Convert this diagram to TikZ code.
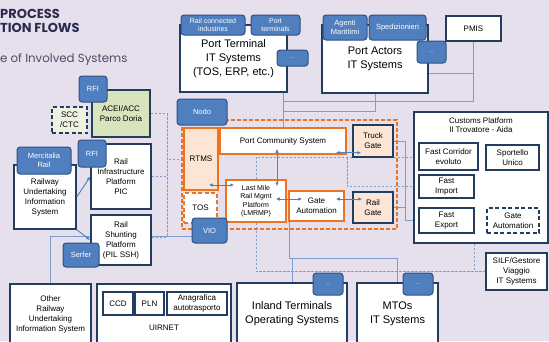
\documentclass[tikz,border=0pt]{standalone}
\usepackage{fontspec}
\setmainfont{Liberation Sans}
\newfontfamily\titlefont{Poppins}
\usetikzlibrary{arrows.meta,positioning,calc}
\pgfdeclarelayer{bg}
\pgfdeclarelayer{wires}
\pgfsetlayers{bg,wires,main}
\definecolor{bgcol}{HTML}{E6E0EC}
\definecolor{navy}{HTML}{233D5E}
\definecolor{tabfill}{HTML}{4F7FBE}
\definecolor{tabedge}{HTML}{2F5283}
\definecolor{orng}{HTML}{EC7422}
\definecolor{peach}{HTML}{FCE5D4}
\definecolor{accgreen}{HTML}{D8E4BC}
\definecolor{sccfill}{HTML}{EEF2E2}
\definecolor{lineblue}{HTML}{7D9DD0}
\definecolor{arrblue}{HTML}{4F7FBE}
\definecolor{titlecol}{HTML}{2C2B4F}
\tikzset{
  sysbox/.style={draw=navy, line width=1.5pt, fill=white, inner sep=0pt, align=center, font=\fontsize{8}{10}\selectfont},
  bigbox/.style={sysbox, font=\fontsize{11}{14}\selectfont},
  obox/.style={sysbox, draw=orng},
  tab/.style={draw=tabedge, fill=tabfill, line width=1pt, rounded corners=3pt, text=white, inner sep=0pt, align=center, font=\fontsize{7.5}{9.5}\selectfont},
  link/.style={draw=lineblue, line width=0.7pt},
  dlink/.style={link, dash pattern=on 2.5pt off 1.5pt},
  arr/.style={draw=arrblue, line width=0.9pt, -{Latex[length=4pt,width=3.5pt]}},
  biarr/.style={draw=arrblue, line width=0.9pt, {Latex[length=4pt,width=3.5pt]}-{Latex[length=4pt,width=3.5pt]}}
}
\begin{document}
\begin{tikzpicture}[x=1pt,y=-1pt]
\clip (0,0) rectangle (549,341);
\begin{pgfonlayer}{bg}
\fill[bgcol] (0,0) rectangle (549,341);
\end{pgfonlayer}

% heading
\node[anchor=base west, inner sep=0pt, text=titlecol, font=\titlefont\bfseries\fontsize{13}{15}\selectfont] (ttlA) at (0,18) {PROCESS};
\node[anchor=base west, inner sep=0pt, text=titlecol, font=\titlefont\bfseries\fontsize{13}{15}\selectfont] (ttlB) at (0,32) {TION FLOWS};
\node[anchor=base west, inner sep=0pt, text=titlecol!85, font=\titlefont\fontsize{11.8}{13}\selectfont] (ttlC) at (0,62) {e of Involved Systems};

% port side
\node[bigbox, minimum width=107pt, minimum height=67pt] (PT) at (233.5,58.5) {Port Terminal\\IT Systems\\(TOS, ERP, etc.)};
\node[bigbox, minimum width=106pt, minimum height=68pt] (PA) at (375,59) {Port Actors\\IT Systems};
\node[sysbox, minimum width=55pt, minimum height=25pt] (PMIS) at (473.5,28.5) {PMIS};
\node[tab, minimum width=64pt, minimum height=20pt, font=\fontsize{7}{8.5}\selectfont] (tRail) at (213,25) {Rail connected\\industries};
\node[tab, minimum width=49pt, minimum height=20pt, font=\fontsize{7}{8.5}\selectfont] (tPort) at (275.5,25) {Port\\terminals};
\node[tab, minimum width=31pt, minimum height=16pt, font=\fontsize{5}{6}\selectfont] (tDotA) at (292.5,58) {...};
\node[tab, minimum width=44pt, minimum height=25pt] (tAgenti) at (345,27.5) {Agenti\\Marittimi};
\node[tab, minimum width=57pt, minimum height=25pt] (tSped) at (397.5,27.5) {Spedizionieri};
\node[tab, minimum width=29pt, minimum height=22pt, font=\fontsize{5}{6}\selectfont] (tDotB) at (431.5,52) {...};

% rail side
\node[sysbox, fill=accgreen, minimum width=58pt, minimum height=47pt] (ACEI) at (121,113.5) {ACEI/ACC\\Parco Doria};
\node[sysbox, fill=sccfill, dash pattern=on 4pt off 2.5pt, minimum width=35pt, minimum height=26pt] (SCC) at (69.5,120) {SCC\\/CTC};
\node[sysbox, minimum width=62pt, minimum height=64pt] (RU) at (45,197) {Railway\\Undertaking\\Information\\System};
\node[sysbox, minimum width=60pt, minimum height=65pt] (PIC) at (121,176.5) {Rail\\Infrastructure\\Platform\\PIC};
\node[sysbox, minimum width=60pt, minimum height=50pt] (Shunt) at (121,240) {Rail\\Shunting\\Platform\\(PIL SSH)};
\node[tab, minimum width=28pt, minimum height=26pt] (tRfiA) at (93,89) {RFI};
\node[tab, minimum width=28pt, minimum height=27pt] (tRfiB) at (92,153.5) {RFI};
\node[tab, minimum width=54pt, minimum height=27pt] (tMerc) at (44,160.5) {Mercitalia\\Rail};
\node[tab, minimum width=36pt, minimum height=24pt] (tSerfer) at (81,255) {Serfer};

% orange cluster
\node[draw=orng, line width=1.5pt, dash pattern=on 4pt off 2pt, minimum width=215pt, minimum height=109pt] (LOG) at (289.5,174.5) {};
\node[obox, fill=peach, minimum width=34pt, minimum height=62pt] (RTMS) at (201,159) {RTMS};
\node[obox, dash pattern=on 4pt off 2.5pt, minimum width=33pt, minimum height=30pt] (TOS) at (200.5,208) {TOS};
\node[obox, minimum width=126pt, minimum height=26pt] (PCS) at (283,141) {Port Community System};
\node[sysbox, fill=peach, minimum width=40pt, minimum height=32pt] (Truck) at (373,141) {Truck\\Gate};
\node[obox, font=\fontsize{7}{8.5}\selectfont, minimum width=60pt, minimum height=42pt] (LMRMP) at (256,201) {Last Mile\\Rail Mgmt\\Platform\\(LMRMP)};
\node[obox, minimum width=55pt, minimum height=30pt] (GateA) at (316.5,206) {Gate\\Automation};
\node[sysbox, fill=peach, minimum width=40pt, minimum height=31pt] (RailG) at (373,207.5) {Rail\\Gate};
\node[tab, minimum width=50pt, minimum height=26pt] (tNodo) at (202,112) {Nodo};
\node[tab, minimum width=35pt, minimum height=25pt] (tVio) at (209.5,230.5) {VIO};

% customs
\node[sysbox, minimum width=134pt, minimum height=131pt] (CUS) at (481,177.5) {};
\node[align=center, inner sep=0pt, font=\fontsize{8}{9.5}\selectfont] (CUStxt) at (481,125) {Customs Platform\\Il Trovatore - Aida};
\node[sysbox, minimum width=59pt, minimum height=27pt] (FastCorr) at (448.5,156.5) {Fast Corridor\\evoluto};
\node[sysbox, minimum width=53pt, minimum height=25pt] (Sport) at (512.5,157.5) {Sportello\\Unico};
\node[sysbox, minimum width=55pt, minimum height=23pt] (FastImp) at (446.5,186.5) {Fast\\Import};
\node[sysbox, minimum width=55pt, minimum height=25pt] (FastExp) at (446.5,220.5) {Fast\\Export};
\node[sysbox, dash pattern=on 4pt off 2.5pt, minimum width=52pt, minimum height=25pt] (GateB) at (513,220.5) {Gate\\Automation};
\node[sysbox, minimum width=61pt, minimum height=37pt] (SILF) at (516.5,271.5) {SILF/Gestore\\Viaggio\\IT Systems};

% bottom row
\node[sysbox, minimum width=81pt, minimum height=61pt] (ORU) at (50.5,314.5) {Other\\Railway\\Undertaking\\Information System};
\node[sysbox, minimum width=134pt, minimum height=61pt] (UIR) at (164,314.5) {};
\node[inner sep=0pt, font=\fontsize{8}{10}\selectfont] (UIRtxt) at (164,328) {UIRNET};
\node[sysbox, minimum width=30pt, minimum height=23pt] (CCD) at (118,303.5) {CCD};
\node[sysbox, minimum width=29pt, minimum height=23pt] (PLN) at (149.5,303.5) {PLN};
\node[sysbox, minimum width=60pt, minimum height=23pt] (Anag) at (197,303.5) {Anagrafica\\autotrasporto};
\node[bigbox, minimum width=110pt, minimum height=62pt] (Inland) at (292,314) {Inland Terminals\\Operating Systems};
\node[bigbox, minimum width=81pt, minimum height=62pt] (MTO) at (397.5,314) {MTOs\\IT Systems};
\node[tab, minimum width=30pt, minimum height=22pt, font=\fontsize{5}{6}\selectfont] (tDotC) at (328,284) {...};
\node[tab, minimum width=30pt, minimum height=22pt, font=\fontsize{5}{6}\selectfont] (tDotD) at (418,284) {...};

% junctions
\coordinate (jTop) at (283,101);
\coordinate (jAct) at (283,111);
\coordinate (jLeft) at (167,237);
\coordinate (jRight) at (405,141);
\coordinate (jMid) at (256,157);
\coordinate (jImp) at (347,157);
\coordinate (jBot) at (397.5,258);

\begin{pgfonlayer}{wires}
\draw[link] (PT.south -| PCS.north) -- (PCS.north);
\draw[link] (PA.south) |- (jAct);
\draw[link] (PMIS.south) |- (jTop);
\draw[link] ([yshift=-14pt]PA.east) -- ([yshift=-14pt]PA.east -| PMIS.south);
\draw[link] (tRail.east) -- (tPort.west);
\draw[dlink] (ACEI.east) -| (jLeft);
\draw[dlink] (PIC.east) -- (PIC.east -| jLeft);
\draw[dlink] ([yshift=3pt]Shunt.east) -- (jLeft);
\draw[dlink] (RTMS.west) -- (RTMS.west -| jLeft);
\draw[link] (ORU.north) |- ([yshift=-5.5pt]tVio.west);
\draw[link] (Truck.east) -- (jRight) |- (FastExp.west);
\draw[link] (RailG.east) -- (RailG.east -| jRight);
\draw[dlink] (LMRMP.north) -- (jMid) -- (jMid -| FastCorr.west);
\draw[dlink] (jImp) |- (FastImp.west);
\draw[dlink] (LMRMP.south) |- (SILF.west);
\draw[dlink] ([xshift=-7pt]CUS.south) -- ([xshift=-7pt]CUS.south |- SILF.west);
\draw[link] ([xshift=1pt]GateA.south west) |- (jBot) -- (MTO.north);
\draw[link] (Inland.north) -- (Inland.north |- jBot);
\end{pgfonlayer}

\draw[arr] (RU.east) -- (PIC.west);
\draw[arr] (RU.south east) -- (Shunt.west);
\draw[biarr, shorten <=-11pt, shorten >=-9pt] ([yshift=2pt]PCS.south east) -- ([yshift=2pt]PCS.south east -| Truck.west);
\draw[biarr, shorten <=-6pt, shorten >=-7pt] ([xshift=-6pt]PCS.south) -- ([xshift=-6pt]PCS.south |- LMRMP.north);
\draw[biarr, shorten <=-10pt, shorten >=-9pt] ([yshift=-26pt]RTMS.east) -- ([yshift=-26pt]RTMS.east -| LMRMP.west);
\draw[biarr, shorten <=-11pt, shorten >=-14pt] ([yshift=2pt]LMRMP.east) -- ([yshift=2pt]LMRMP.east -| GateA.west);
\draw[biarr, shorten <=-9pt, shorten >=-10pt] ([yshift=7pt]GateA.east) -- ([yshift=7pt]GateA.east -| RailG.west);
\end{tikzpicture}
\end{document}
